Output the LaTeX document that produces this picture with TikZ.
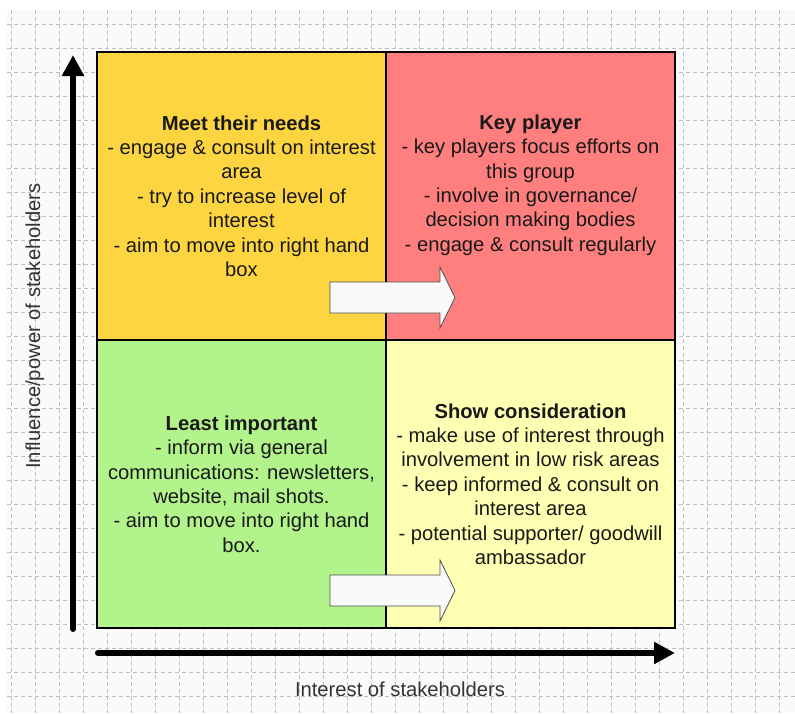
\documentclass[tikz,border=0pt]{standalone}
\usepackage{fontspec}
\setmainfont{Liberation Sans}
\usetikzlibrary{positioning,arrows.meta}
\definecolor{needscol}{HTML}{FDD540}
\definecolor{keycol}{HTML}{FF7F7F}
\definecolor{leastcol}{HTML}{B3F38C}
\definecolor{showcol}{HTML}{FFFFB3}
\definecolor{paper}{HTML}{FAFAFA}

\begin{document}
\begin{tikzpicture}[x=1pt, y=-1pt, node distance=0pt,
  font=\fontsize{20.2}{24.4}\selectfont]
\tikzset{quad/.style = {draw, rectangle, line width=1.5pt, outer sep=0pt,
  inner sep=0pt, minimum width=289pt, minimum height=288pt}}
\tikzset{note/.style = {align=center, inner sep=0pt, text=black!90}}
\tikzset{axis/.style = {line width=6pt, line cap=round,
  -{Triangle[length=21pt, width=21pt]}}}
\tikzset{gridline/.style = {black!25, line width=0.8pt, dash pattern=on 4pt off 3pt}}
\tikzset{blockarrow/.style = {fill=white!98!black, draw=black!70, line width=0.8pt}}

  \useasboundingbox (0,0) rectangle (795,713);

  % squared paper
  \fill[paper] (7,10) rectangle (795,713);
  \foreach \gx in {11,35,...,795}
    \draw[gridline] (\gx,10) -- (\gx,713);
  \foreach \gy in {24,48,...,713}
    \draw[gridline] (7,\gy) -- (795,\gy);

  % the four boxes
  \node[quad, fill=needscol] (needs) at (241.5,196) {};
  \node[quad, fill=keycol, right=of needs] (keyplayer) {};
  \node[quad, fill=leastcol, below=of needs] (least) {};
  \node[quad, fill=showcol, right=of least] (consider) {};

  \node[note] (needstext) at (needs)
    {\textbf{Meet their needs}\\- engage \& consult on interest\\area\\
     - try to increase level of\\interest\\- aim to move into right hand\\box};
  \node[note, yshift=11pt] (keytext) at (keyplayer)
    {\textbf{Key player}\\- key players focus efforts on\\this group\\
     - involve in governance/\\decision making bodies\\
     - engage \& consult regularly};
  \node[note] (leasttext) at (least)
    {\textbf{Least important}\\- inform via general\\
     communications: newsletters,\\website, mail shots.\\
     - aim to move into right hand\\box.};
  \node[note] (considertext) at (consider)
    {\textbf{Show consideration}\\- make use of interest through\\
     involvement in low risk areas\\- keep informed \& consult on\\
     interest area\\- potential supporter/ goodwill\\ambassador};

  % move to the right
  \foreach \ya in {297.5,590.5}
    \draw[blockarrow] (330,\ya-15.5) -- (440,\ya-15.5) -- (440,\ya-30.5)
      -- (455,\ya) -- (440,\ya+30.5) -- (440,\ya+15.5) -- (330,\ya+15.5) -- cycle;

  % axes
  \coordinate (yfoot) at (73,629);
  \coordinate (ytip) at (73,55);
  \coordinate (xfoot) at (98,653);
  \coordinate (xtip) at (675,653);
  \draw[axis] (yfoot) -- (ytip);
  \draw[axis] (xfoot) -- (xtip);

  \node[text=black!80, rotate=90] (powerlabel) at (35,326)
    {Influence/power of stakeholders};
  \node[text=black!80] (interestlabel) at (400,689) {Interest of stakeholders};

\end{tikzpicture}
\end{document}
